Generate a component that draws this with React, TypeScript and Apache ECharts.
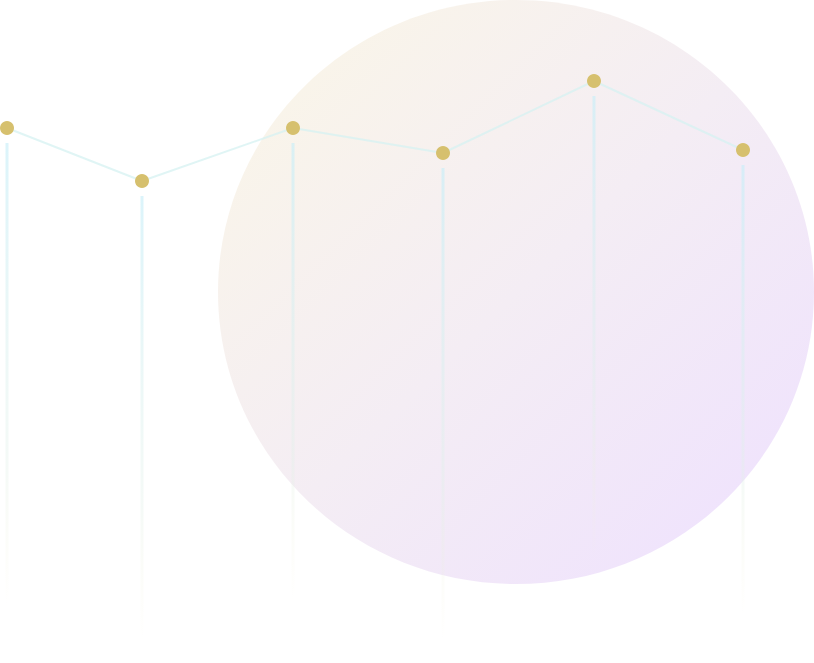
import { useEffect, useRef } from "react";
import * as echarts from "echarts";

// positions along the horizontal axis
const xValues = [7, 142, 293, 443, 594, 743];
// line values (dots)
const lineValues = [535, 482, 535, 510, 582, 513];
// where each fading stem ends
const stemEnds = [58, 23, 63, 23, 103, 48];

const App = () => {
  const chartRef = useRef<HTMLDivElement>(null);

  useEffect(() => {
    if (!chartRef.current) return;
    const chart = echarts.init(chartRef.current, undefined, { renderer: "svg" });

    const linePoints = xValues.map((x, i) => [x, lineValues[i]]);
    const stems = xValues.map((x, i) => [x, lineValues[i], stemEnds[i]]);

    const option: echarts.EChartsOption = {
      animation: false,
      backgroundColor: "#ffffff",
      grid: { left: 0, right: 0, top: 0, bottom: 0 },
      xAxis: { type: "value", min: 0, max: 814, show: false },
      yAxis: { type: "value", min: 0, max: 663, show: false },
      graphic: [
        {
          type: "ellipse",
          z: -10,
          shape: { cx: 516, cy: 292, rx: 298, ry: 292 },
          style: {
            fill: new echarts.graphic.LinearGradient(0, 0, 1, 1, [
              { offset: 0, color: "#fbf7e6" },
              { offset: 0.5, color: "#f4edf4" },
              { offset: 1, color: "#eee0ff" },
            ]),
          },
        },
      ],
      series: [
        {
          type: "custom",
          z: 1,
          clip: false,
          data: stems,
          renderItem: (params: any, api: any) => {
            const top = api.coord([api.value(0), api.value(1)]);
            const bottom = api.coord([api.value(0), api.value(2)]);
            const w = 3;
            return {
              type: "rect",
              shape: {
                x: top[0] - w / 2,
                y: top[1] + 15,
                width: w,
                height: bottom[1] - top[1] - 15,
              },
              style: {
                fill: new echarts.graphic.LinearGradient(0, 0, 0, 1, [
                  { offset: 0, color: "rgba(200,238,248,0.65)" },
                  { offset: 0.7, color: "rgba(225,240,232,0.35)" },
                  { offset: 1, color: "rgba(245,240,210,0)" },
                ]),
              },
            };
          },
        },
        {
          type: "line",
          z: 3,
          clip: false,
          data: linePoints,
          symbol: "circle",
          symbolSize: 14,
          itemStyle: { color: "#d6c06e" },
          lineStyle: { color: "rgba(214,242,242,0.75)", width: 2 },
        },
      ],
    };

    chart.setOption(option);
    return () => {
      chart.dispose();
    };
  }, []);

  return (
    <div
      ref={chartRef}
      style={{ position: "absolute", left: 0, top: 0, width: 814, height: 663 }}
    />
  );
};

export default App;
